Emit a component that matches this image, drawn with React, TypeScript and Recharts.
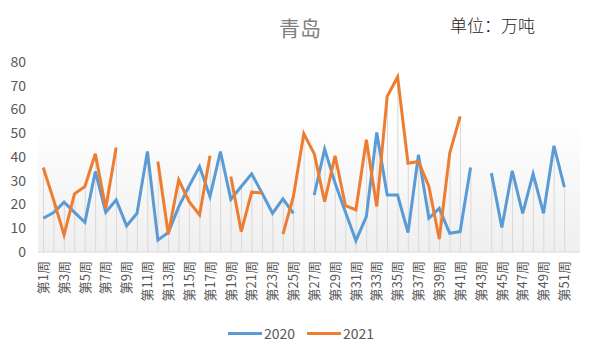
import React from 'react';
import {
  ComposedChart,
  Line,
  Bar,
  XAxis,
  YAxis,
  CartesianGrid,
  Legend,
} from 'recharts';

const weeks: string[] = Array.from({ length: 52 }, (_, i) => `第${i + 1}周`);

const values2020: (number | null)[] = [
  14.2, 16.6, 21, 16.7, 12.5, 33.9, 16.7, 21.9, 11, 16.3,
  42.3, 5, 8.2, 19, 27.8, 36, 23.3, 42.3, 22.2, 27.6,
  32.9, 24.8, 16.3, 22.4, 16.3, null, 24, 43.3, 29, 16.7,
  4.8, 14.9, 50.3, 24, 24, 8.2, 40.9, 14.2, 18.4, 7.9,
  8.6, 35.6, null, 33.2, 10.3, 34.2, 16.3, 32.9, 16.3, 44.7,
  27.3, null,
];

const values2021: (number | null)[] = [
  35.6, 21.9, 7.2, 24.5, 27.6, 41.4, 18.4, 44, null, null,
  null, 38.1, 7.5, 30.4, 21.2, 15.6, 40.5, null, 31.8, 8.6,
  25.2, 24.8, null, 7.5, 23.3, 49.8, 41.4, 21.2, 40.5, 19.5,
  17.7, 47.3, 19.1, 65.5, 73.7, 37.4, 38.1, 27.6, 5.4, 41.6,
  57.1, null, null, null, null, null, null, null, null, null,
  null, null,
];

const yTicks = [0, 10, 20, 30, 40, 50, 60, 70, 80];

const BLUE = '#5B9BD5';
const ORANGE = '#ED7D31';
const FONT = '"Noto Sans CJK SC", "Noto Sans", sans-serif';

const data = weeks.map((week, i) => {
  const a = values2020[i];
  const b = values2021[i];
  const vals = [a, b].filter((v): v is number => v !== null);
  return {
    week,
    y2020: a,
    y2021: b,
    drop: vals.length ? Math.max(...vals) : null,
  };
});

const WeekTick = (props: any) => {
  const { x, y, payload } = props;
  return (
    <g transform={`translate(${x},${y + 3})`}>
      <text
        transform="rotate(-90)"
        textAnchor="end"
        dy="0.36em"
        fill="#595959"
        fontSize={13}
        fontFamily={FONT}
      >
        {payload.value}
      </text>
    </g>
  );
};

const LegendContent = () => (
  <div
    style={{
      display: 'flex',
      justifyContent: 'center',
      alignItems: 'center',
      fontFamily: FONT,
      fontSize: 14,
      color: '#595959',
      paddingLeft: 6,
    }}
  >
    {[
      { name: '2020', color: BLUE },
      { name: '2021', color: ORANGE },
    ].map((item) => (
      <div key={item.name} style={{ display: 'flex', alignItems: 'center', margin: '0 6px' }}>
        <span style={{ display: 'inline-block', width: 34, height: 3, background: item.color, marginRight: 2 }} />
        <span>{item.name}</span>
      </div>
    ))}
  </div>
);

export default function App() {
  return (
    <div style={{ position: 'absolute', left: 0, top: 0, width: 596, height: 357, background: '#fff' }}>
      <div
        style={{
          position: 'absolute',
          left: 0,
          width: 596,
          top: 12,
          textAlign: 'center',
          fontFamily: FONT,
          fontSize: 21,
          color: '#808080',
          paddingLeft: 4,
          boxSizing: 'border-box',
        }}
      >
        青岛
      </div>
      <div
        style={{
          position: 'absolute',
          left: 450,
          top: 12,
          fontFamily: FONT,
          fontSize: 17,
          fontWeight: 300,
          color: '#1a1a1a',
        }}
      >
        单位：万吨
      </div>
      <ComposedChart
        width={596}
        height={357}
        data={data}
        margin={{ top: 62, right: 16, left: 0, bottom: 45 }}
      >
        <defs>
          <linearGradient id="plotBg" x1="0" y1="0" x2="0" y2="1">
            <stop offset="0" stopColor="#ffffff" />
            <stop offset="0.3" stopColor="#ffffff" />
            <stop offset="1" stopColor="#efefef" />
          </linearGradient>
        </defs>
        <CartesianGrid horizontal={false} vertical={false} fill="url(#plotBg)" />
        <XAxis
          dataKey="week"
          interval={1}
          height={60}
          tickLine={false}
          tickSize={0}
          tickMargin={6}
          axisLine={{ stroke: '#d9d9d9' }}
          tick={<WeekTick />}
        />
        <YAxis
          domain={[0, 80]}
          ticks={yTicks}
          width={38}
          axisLine={false}
          tickLine={false}
          tickMargin={6}
          tick={{ fill: '#595959', fontSize: 14, fontFamily: FONT }}
        />
        <Bar dataKey="drop" barSize={1} fill="#d9d9d9" isAnimationActive={false} legendType="none" />
        <Line
          type="linear"
          dataKey="y2020"
          name="2020"
          stroke={BLUE}
          strokeWidth={3}
          dot={false}
          isAnimationActive={false}
        />
        <Line
          type="linear"
          dataKey="y2021"
          name="2021"
          stroke={ORANGE}
          strokeWidth={3}
          dot={false}
          isAnimationActive={false}
        />
        <Legend
          verticalAlign="middle"
          align="center"
          content={<LegendContent />}
          wrapperStyle={{ top: 323, left: 0, width: 596 }}
        />
      </ComposedChart>
    </div>
  );
}
